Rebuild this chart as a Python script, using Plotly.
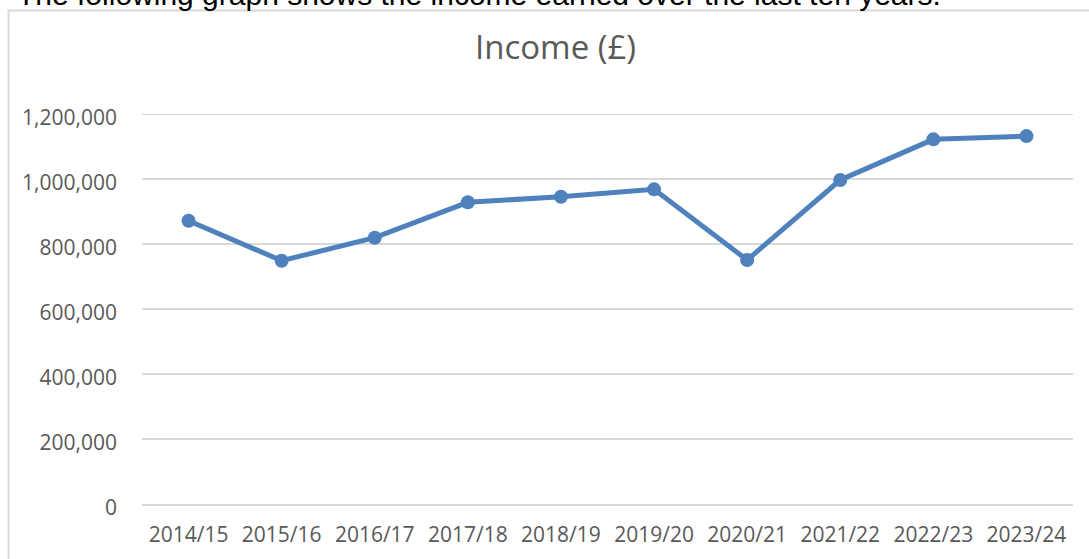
import plotly.graph_objects as go

years = ["2014/15", "2015/16", "2016/17", "2017/18", "2018/19",
         "2019/20", "2020/21", "2021/22", "2022/23", "2023/24"]
income = [871700, 748600, 819400, 928300, 945600,
          968200, 750800, 996900, 1122000, 1132000]
y_ticks = [0, 200000, 400000, 600000, 800000, 1000000, 1200000]
y_tick_labels = ["0", "200,000", "400,000", "600,000", "800,000", "1,000,000", "1,200,000"]
y_max = 1200000

W, H = 1089, 559
L, R, T, B = 142, 16, 114, 55
PW, PH = W - L - R, H - T - B
BLUE = "#4f81bd"
GREY_TXT = "#595959"
GRID = "#d9d9d9"


def px_x(x):
    return (x - L) / PW


def px_y(y):
    return (H - B - y) / PH


fig = go.Figure()
fig.add_trace(go.Scatter(
    x=years, y=income, mode="lines+markers",
    line=dict(color=BLUE, width=5),
    marker=dict(color=BLUE, size=14, line=dict(width=0)),
    showlegend=False, hoverinfo="x+y",
))

fig.update_layout(
    width=W, height=H,
    margin=dict(l=L, r=R, t=T, b=B),
    paper_bgcolor="white", plot_bgcolor="white",
    font=dict(family="Open Sans", size=21, color=GREY_TXT),
    xaxis=dict(
        type="category", range=[-0.5, 9.5],
        showgrid=False, zeroline=False,
        showline=True, linecolor=GRID, linewidth=2,
        ticks="", ticklabelstandoff=11,
        tickfont=dict(family="Open Sans", size=21, color=GREY_TXT),
    ),
    yaxis=dict(
        range=[0, y_max], tickvals=y_ticks, ticktext=y_tick_labels,
        showgrid=True, gridcolor=GRID, gridwidth=2,
        zeroline=False, showline=False, ticks="",
        ticklabelstandoff=24, ticklabelshift=4,
        tickfont=dict(family="Open Sans", size=21, color=GREY_TXT),
    ),
    shapes=[
        dict(type="line", xref="paper", yref="y", x0=0, x1=1, y0=y_max, y1=y_max,
             line=dict(color=GRID, width=2), layer="below"),
        dict(type="rect", xref="paper", yref="paper",
             x0=px_x(8.5), x1=1.1, y0=-0.2, y1=px_y(10.5),
             line=dict(color=GRID, width=2), fillcolor="rgba(0,0,0,0)", layer="above"),
    ],
    annotations=[
        dict(text="Income (£)", xref="paper", yref="paper",
             x=px_x(555.5), y=px_y(47),
             xanchor="center", yanchor="middle", showarrow=False,
             font=dict(family="Open Sans", size=33, color=GREY_TXT)),
        dict(text="The following graph shows the income earned over the last ten years.",
             xref="paper", yref="paper",
             x=px_x(15), y=px_y(-5),
             xanchor="left", yanchor="middle", showarrow=False,
             font=dict(family="Liberation Sans", size=30, color="black")),
    ],
)

fig.write_html("out.html", config={"displayModeBar": False},
               post_script="document.body.style.margin='0';")
